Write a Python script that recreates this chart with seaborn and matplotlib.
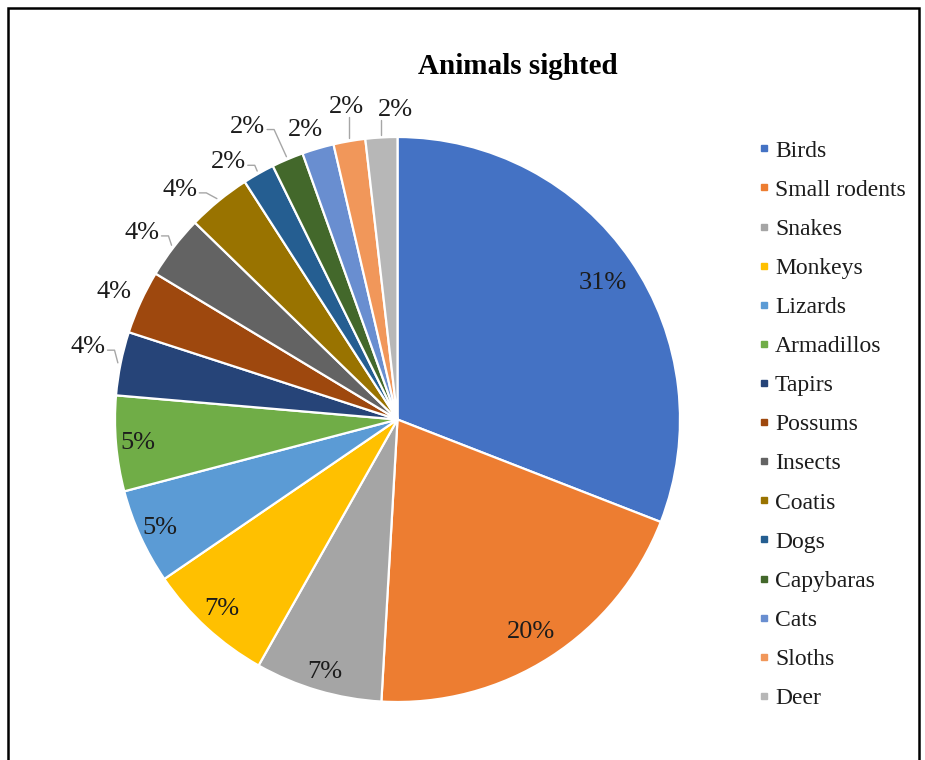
import numpy as np
import matplotlib
matplotlib.use("Agg")
import matplotlib.pyplot as plt
from matplotlib.lines import Line2D
from matplotlib.patches import Rectangle
import seaborn as sns

# Sightings per animal group
animals = ["Birds", "Small rodents", "Snakes", "Monkeys", "Lizards", "Armadillos",
           "Tapirs", "Possums", "Insects", "Coatis", "Dogs", "Capybaras", "Cats",
           "Sloths", "Deer"]
sightings = [17, 11, 4, 4, 3, 3, 2, 2, 2, 2, 1, 1, 1, 1, 1]
title = "Animals sighted"

palette = sns.color_palette([
    "#4472C4", "#ED7D31", "#A5A5A5", "#FFC000", "#5B9BD5", "#70AD47",
    "#264478", "#9E480E", "#636363", "#997300", "#255E91", "#43682B",
    "#698ED0", "#F1975A", "#B7B7B7",
])

# Label placement: radius (in pie radii) and a small angular nudge (deg)
label_radius = [0.873, 0.888, 0.93, 0.914, 0.924, 0.922, 1.125, 1.10, 1.12,
                1.12, 1.09, 1.165, 1.076, 1.12, 1.096]
label_turn = [-0.8, -0.6, 0.4, -0.3, 0.0, 0.2, -1.7, 0.4, 1.5, 4.2, 3.9, 4.2,
              1.3, -0.6, -2.8]
has_leader = [False] * 6 + [True, False, True, True, True, True, False, True, True]

sns.set_theme(style="white")
plt.rcParams["font.family"] = ["Liberation Serif", "DejaVu Serif"]

W, H = 925, 760
fig = plt.figure(figsize=(W / 100, H / 100), dpi=100)
fig.patch.set_facecolor("white")

# Pie axes: centre and radius in pixels
cx, cy, R = 397.5, 419.5, 282.5
L = 1.25 * R
ax = fig.add_axes([(cx - L) / W, (H - cy - L) / H, 2 * L / W, 2 * L / H])
ax.set_xlim(-1.25, 1.25)
ax.set_ylim(-1.25, 1.25)
ax.set_aspect("equal")
ax.axis("off")

wedges, _ = ax.pie(sightings, colors=palette, startangle=90, counterclock=False,
                   radius=1.0, wedgeprops=dict(edgecolor="white", linewidth=1.6))

total = sum(sightings)
texts = []
for w, n, r, t in zip(wedges, sightings, label_radius, label_turn):
    mid = np.deg2rad((w.theta1 + w.theta2) / 2 + t)
    txt = ax.text(r * np.cos(mid), r * np.sin(mid), f"{100 * n / total:.0f}%",
                  ha="center", va="center", fontsize=19, color="#1c1c1c")
    texts.append(txt)

# Leader lines from outside labels to the wedge rims
fig.canvas.draw()
renderer = fig.canvas.get_renderer()
inv = ax.transData.inverted()
for w, txt, lead in zip(wedges, texts, has_leader):
    if not lead:
        continue
    mid = np.deg2rad((w.theta1 + w.theta2) / 2)
    ex, ey = ax.transData.transform((1.01 * np.cos(mid), 1.01 * np.sin(mid)))
    bb = txt.get_window_extent(renderer)
    if bb.x0 < ex < bb.x1:
        pts = [(ex, bb.y0 + 1), (ex, ey)]
    else:
        ym = (bb.y0 + bb.y1) / 2 - 3
        pts = [(bb.x1 + 2, ym), (bb.x1 + 9, ym), (ex, ey)]
    data_pts = inv.transform(pts)
    ax.add_line(Line2D(data_pts[:, 0], data_pts[:, 1], color="#A6A6A6", lw=1.0,
                       zorder=1))

fig.text(518 / W, 1 - 66 / H, title, ha="center", va="center", fontsize=21,
         fontweight="bold", color="black")

handles = [Line2D([0], [0], marker="s", linestyle="none", markersize=5,
                  markerfacecolor=c, markeredgecolor=c) for c in palette]
fig.legend(handles, animals, loc="upper left", bbox_to_anchor=(758 / W, 1 - 140 / H),
           frameon=False, fontsize=17, handlelength=0.5, handletextpad=0.22,
           labelspacing=0.745, borderpad=0, borderaxespad=0, labelcolor="#1c1c1c")

# Outer chart frame
fig.add_artist(Rectangle((8 / W, -0.05), (919 - 8) / W, 1 - 8 / H + 0.05,
                         transform=fig.transFigure, fill=False, edgecolor="black",
                         linewidth=1.8))

fig.savefig("out.png", dpi=100)
